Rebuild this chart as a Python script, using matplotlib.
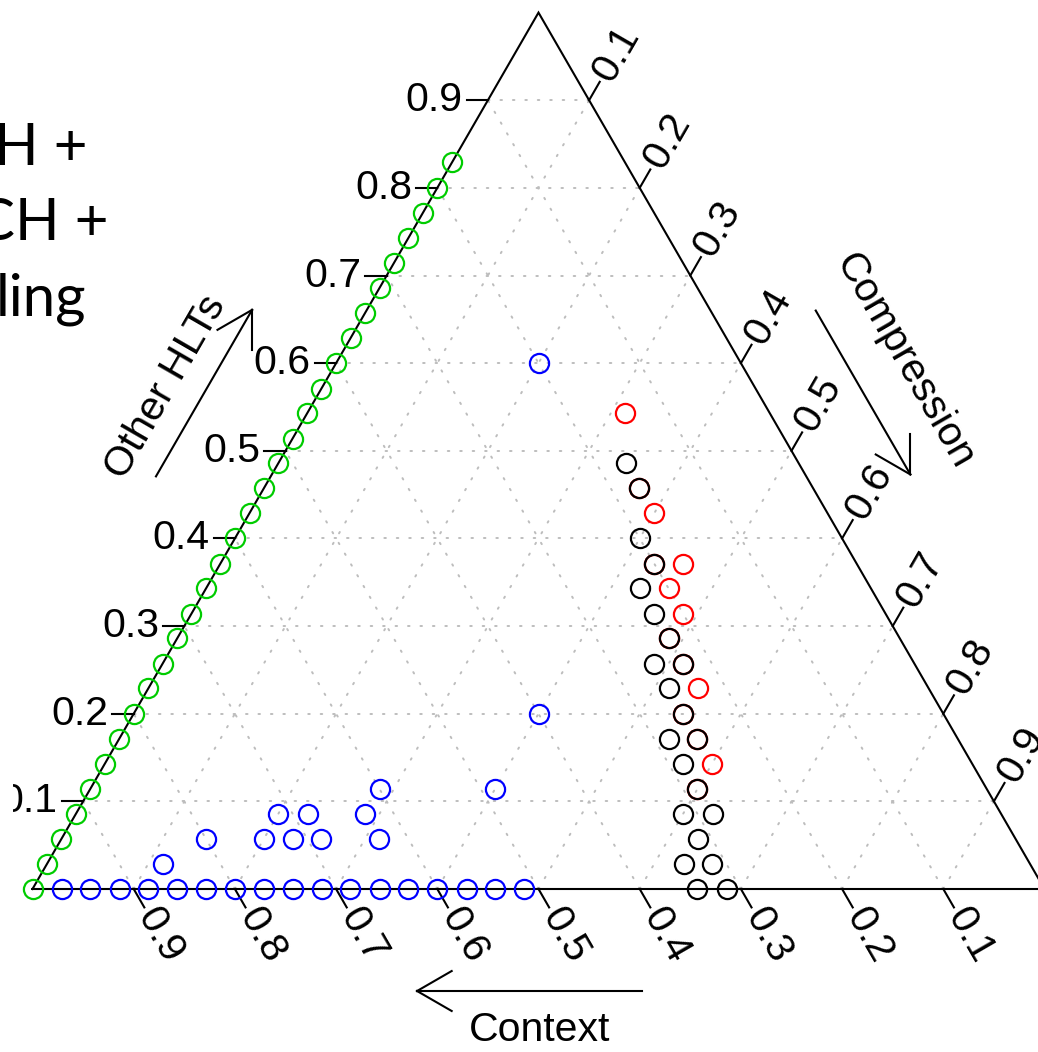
import numpy as np
import matplotlib
matplotlib.use("Agg")
import matplotlib.pyplot as plt
from matplotlib.transforms import Bbox

# ---- data: proportions (compression, other HLTs); context = 1 - both ----
green_compression = [0.0, 0.0, 0.0, 0.0, 0.0, 0.0, 0.0, 0.0, 0.0, 0.0,
                     0.0, 0.0, 0.0, 0.0, 0.0, 0.0, 0.0, 0.0, 0.0, 0.0,
                     0.0, 0.0, 0.0, 0.0, 0.0, 0.0, 0.0, 0.0, 0.0, 0.0]
green_other = [0.0, 0.029, 0.057, 0.086, 0.114, 0.143, 0.171, 0.2, 0.229, 0.257,
               0.286, 0.314, 0.343, 0.371, 0.4, 0.429, 0.457, 0.486, 0.514, 0.543,
               0.571, 0.6, 0.629, 0.657, 0.686, 0.714, 0.743, 0.771, 0.8, 0.829]

blue_compression = [0.029, 0.057, 0.086, 0.114, 0.143, 0.171, 0.2, 0.229, 0.257,
                    0.286, 0.314, 0.343, 0.371, 0.4, 0.429, 0.457, 0.486,
                    0.114, 0.143, 0.2, 0.229, 0.2, 0.229, 0.257, 0.286, 0.286,
                    0.314, 0.4, 0.4, 0.2]
blue_other = [0.0, 0.0, 0.0, 0.0, 0.0, 0.0, 0.0, 0.0, 0.0,
              0.0, 0.0, 0.0, 0.0, 0.0, 0.0, 0.0, 0.0,
              0.029, 0.057, 0.086, 0.086, 0.057, 0.057, 0.057, 0.114, 0.086,
              0.057, 0.114, 0.2, 0.6]

red_compression = [0.314, 0.4, 0.457, 0.457, 0.486, 0.543, 0.6,
                   0.371, 0.429, 0.486, 0.514, 0.543, 0.571, 0.6]
red_other = [0.543, 0.429, 0.371, 0.343, 0.314, 0.229, 0.143,
             0.457, 0.371, 0.286, 0.257, 0.2, 0.171, 0.114]

black_compression = [0.343, 0.371, 0.4, 0.429, 0.429, 0.457, 0.486, 0.486, 0.514,
                     0.514, 0.543, 0.543, 0.571, 0.571, 0.6, 0.6, 0.629, 0.629,
                     0.629, 0.657, 0.657, 0.686]
black_other = [0.486, 0.457, 0.4, 0.371, 0.343, 0.314, 0.286, 0.257, 0.257,
               0.229, 0.2, 0.171, 0.171, 0.143, 0.114, 0.086, 0.086, 0.057,
               0.029, 0.029, 0.0, 0.0]

tick_values = [0.1, 0.2, 0.3, 0.4, 0.5, 0.6, 0.7, 0.8, 0.9]
tick_labels = ["0.1", "0.2", "0.3", "0.4", "0.5", "0.6", "0.7", "0.8", "0.9"]

side_labels = ["H +", "CH +", "ling"]

# ---- figure / coordinate system ----
W, Hpx = 1038, 1052
fig = plt.figure(figsize=(W / 100, Hpx / 100), dpi=100)
ax = fig.add_axes([0, 0, 1, 1])
S = 1012.0            # pixels per unit side
ox, oy = 32.5, 889.0  # pixel position of the bottom-left vertex
ax.set_xlim(-ox / S, (W - ox) / S)
ax.set_ylim(-(Hpx - oy) / S, oy / S)
ax.axis("off")

# plot region: tick labels are clipped at its left border
plot_region = Bbox.from_extents(13, 0, W, Hpx)

H = np.sqrt(3) / 2


def tern(comp, other):
    comp = np.asarray(comp, float)
    other = np.asarray(other, float)
    return comp + other / 2, other * H


LW = 1.5
TXT = dict(family="Liberation Sans", fontsize=29.5)

# dotted grid
grid_kw = dict(color="#BDBDBD", lw=1.4, linestyle=(0, (0.8, 5.6)),
               dash_capstyle="round", zorder=1)
for v in tick_values:
    # constant other
    xs, ys = tern([0, 1 - v], [v, v])
    ax.plot(xs, ys, **grid_kw)
    # constant compression
    xs, ys = tern([v, v], [0, 1 - v])
    ax.plot(xs, ys, **grid_kw)
    # constant context
    xs, ys = tern([1 - v, 0], [0, 1 - v])
    ax.plot(xs, ys, **grid_kw)

# triangle outline
xs, ys = tern([0, 1, 0, 0], [0, 0, 1, 0])
ax.plot(xs, ys, color="black", lw=LW, solid_joinstyle="miter", zorder=2)

L = 0.021
gap = 0.004
tick_texts = []
# left axis: other HLTs
for v, lab in zip(tick_values, tick_labels):
    x, y = tern(0, v)
    ax.plot([x, x - L], [y, y], color="black", lw=LW, zorder=2)
    tick_texts.append(ax.text(x - L - gap, y, lab, ha="right", va="center", **TXT))
# bottom axis: context (increasing to the left)
d = np.array([0.5, -H])
for v, lab in zip(tick_values, tick_labels):
    x, y = tern(1 - v, 0)
    ax.plot([x, x + L * d[0]], [y, y + L * d[1]], color="black", lw=LW, zorder=2)
    tick_texts.append(ax.text(x + (L + gap) * d[0], y + (L + gap) * d[1], lab,
                              rotation=-60, rotation_mode="anchor",
                              ha="left", va="center", **TXT))
# right axis: compression
d = np.array([0.5, H])
for v, lab in zip(tick_values, tick_labels):
    x, y = tern(v, 1 - v)
    ax.plot([x, x + L * d[0]], [y, y + L * d[1]], color="black", lw=LW, zorder=2)
    tick_texts.append(ax.text(x + (L + gap) * d[0], y + (L + gap) * d[1], lab,
                              rotation=60, rotation_mode="anchor",
                              ha="left", va="center", **TXT))
for t in tick_texts:
    t.set_clip_box(plot_region)
    t.set_clip_on(True)


def open_arrow(mid, angle_deg, length, head=0.0395):
    a = np.deg2rad(angle_deg)
    u = np.array([np.cos(a), np.sin(a)])
    mid = np.asarray(mid, float)
    p0 = mid - u * length / 2
    p1 = mid + u * length / 2
    ax.plot([p0[0], p1[0]], [p0[1], p1[1]], color="black", lw=LW)
    for s in (1, -1):
        b = a + np.pi + s * np.deg2rad(30)
        q = p1 + head * np.array([np.cos(b), np.sin(b)])
        ax.plot([p1[0], q[0]], [p1[1], q[1]], color="black", lw=LW)


# axis titles with direction arrows
ax.text(0.131, 0.496, "Other HLTs", rotation=60, rotation_mode="anchor",
        ha="center", va="center", **TXT)
open_arrow((0.1695, 0.490), 60, 0.19)

ax.text(0.862, 0.522, "Compression", rotation=-60, rotation_mode="anchor",
        ha="center", va="center", **TXT)
open_arrow((0.8207, 0.4906), -60, 0.187)

ax.text(0.5015, -0.1393, "Context", ha="center", va="center", **TXT)
open_arrow((0.491, -0.1008), 180, 0.222)

# points
mk = dict(marker="o", linestyle="none", markerfacecolor="none",
          markersize=13.8, markeredgewidth=1.6, zorder=4)
x, y = tern(blue_compression, blue_other)
ax.plot(x, y, markeredgecolor="#0000FF", **mk)
x, y = tern(green_compression, green_other)
ax.plot(x, y, markeredgecolor="#00CC00", **mk)
x, y = tern(red_compression, red_other)
ax.plot(x, y, markeredgecolor="#FF0000", **mk)
x, y = tern(black_compression, black_other)
ax.plot(x, y, markeredgecolor="black", **mk)

# neighbouring panel caption (cut at the figure edge)
for lab, xr, yb in zip(side_labels, [88, 109, 86], [165, 240, 315]):
    fig.text(xr / W, 1 - yb / Hpx, lab, ha="right", va="baseline",
             family="Lato", fontsize=42)

fig.savefig("out.png", dpi=100)
